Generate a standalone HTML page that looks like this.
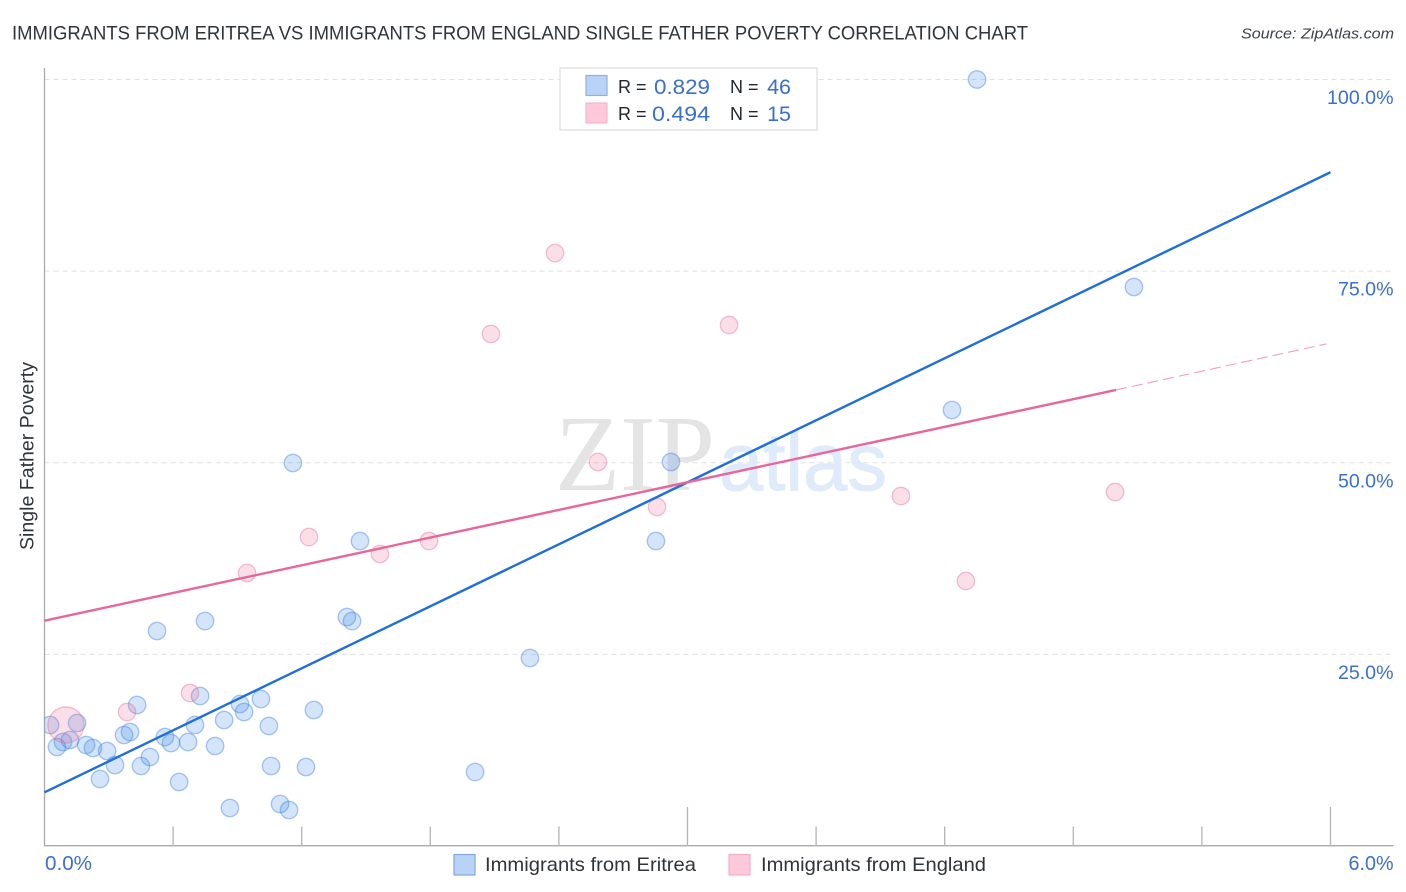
<!DOCTYPE html>
<html lang="en">
<head>
<meta charset="utf-8">
<title>Immigrants from Eritrea vs Immigrants from England Single Father Poverty Correlation Chart</title>
<style>
html,body{margin:0;padding:0;background:#fff;width:1406px;height:892px;overflow:hidden}
svg{display:block;font-family:"Liberation Sans",sans-serif}
</style>
</head>
<body>
<svg id="chart" xmlns="http://www.w3.org/2000/svg" width="1406" height="892" viewBox="0 0 1406 892">
  <defs><clipPath id="plot-clip"><rect x="44.5" y="60" width="1350" height="786"/></clipPath></defs>
  <text x="12" y="39.5" font-size="19.5" fill="#2f343a" textLength="1016" lengthAdjust="spacingAndGlyphs">IMMIGRANTS FROM ERITREA VS IMMIGRANTS FROM ENGLAND SINGLE FATHER POVERTY CORRELATION CHART</text>
  <text x="1394" y="38.5" font-size="15" font-style="italic" fill="#3c4248" text-anchor="end" textLength="153" lengthAdjust="spacingAndGlyphs">Source: ZipAtlas.com</text>

  <g id="grid"></g>

  <g>
    <text x="555" y="490" font-family="'Liberation Serif',serif" font-size="108" fill="#e4e4e4" textLength="160" lengthAdjust="spacingAndGlyphs">ZIP</text>
    <text x="719" y="490" font-family="'Liberation Sans',sans-serif" font-size="82" fill="#dfeafa" stroke="#dfeafa" stroke-width="1" textLength="168" lengthAdjust="spacingAndGlyphs">atlas</text>
  </g>

  <g id="axes"></g>
  <g id="points" clip-path="url(#plot-clip)"></g>
  <g id="trends"></g>
  <g id="labels"></g>

  <text transform="translate(33.5,456) rotate(-90)" font-size="19" fill="#2f343a" text-anchor="middle" textLength="188" lengthAdjust="spacingAndGlyphs">Single Father Poverty</text>

  <g>
    <rect x="560" y="68" width="257" height="62" fill="#fff" stroke="#dcdcdc" stroke-width="1.2"/>
    <rect x="586" y="75.5" width="21" height="20" fill="#b8d3f6" stroke="#8db1e6" stroke-width="1.2"/>
    <rect x="586" y="103" width="21" height="20" fill="#fdc8da" stroke="#f8b4cb" stroke-width="1.2"/>
    <text x="618" y="93" font-size="18" fill="#22272c">R =</text>
    <text x="710" y="94" font-size="21.5" fill="#3a6fd0" text-anchor="end" textLength="56" lengthAdjust="spacingAndGlyphs">0.829</text>
    <text x="730" y="93" font-size="18" fill="#22272c">N =</text>
    <text x="791" y="94" font-size="21.5" fill="#3a6fd0" text-anchor="end">46</text>
    <text x="618" y="120" font-size="18" fill="#22272c">R =</text>
    <text x="710" y="121" font-size="21.5" fill="#3a6fd0" text-anchor="end" textLength="58" lengthAdjust="spacingAndGlyphs">0.494</text>
    <text x="730" y="120" font-size="18" fill="#22272c">N =</text>
    <text x="791" y="121" font-size="21.5" fill="#3a6fd0" text-anchor="end">15</text>
  </g>

  <g>
    <rect x="454" y="854.5" width="21" height="20.5" fill="#b8d3f6" stroke="#7fa8e0" stroke-width="1.2"/>
    <text x="485" y="871" font-size="19.5" fill="#2f343a" textLength="211" lengthAdjust="spacingAndGlyphs">Immigrants from Eritrea</text>
    <rect x="729" y="854.5" width="21" height="20.5" fill="#fdc8da" stroke="#f3afc6" stroke-width="1.2"/>
    <text x="761" y="871" font-size="19.5" fill="#2f343a" textLength="225" lengthAdjust="spacingAndGlyphs">Immigrants from England</text>
  </g>
</svg>

<script>
const eritreaX = [4.351,5.083,4.234,2.923,1.159,2.853,1.472,1.411,1.435,0.525,0.749,2.265,0.432,0.726,0.912,1.010,0.931,1.257,0.838,0.702,1.047,0.399,0.371,0.562,0.590,0.670,0.796,0.492,0.450,0.329,0.259,0.628,1.057,1.220,2.009,0.865,1.099,1.141,0.058,0.086,0.119,0.152,0.026,0.194,0.226,0.292];
const eritreaY = [100.0,72.93,56.88,50.10,49.97,39.79,39.79,29.88,29.35,28.05,29.35,24.53,18.40,19.57,18.53,19.18,17.48,17.74,16.44,15.79,15.66,14.87,14.48,14.22,13.44,13.57,13.05,11.61,10.44,10.57,8.74,8.35,10.44,10.31,9.65,4.96,5.48,4.70,12.92,13.57,13.83,16.05,15.79,13.18,12.79,12.39];
const englandX = [2.382,2.083,3.194,2.582,3.996,4.995,2.858,1.234,1.794,1.565,0.945,4.299,0.679,0.385,0.100];
const englandY = [77.36,66.80,67.97,50.10,45.66,46.18,44.23,40.31,39.79,38.10,35.62,34.57,19.96,17.48,15.79];
const englandWeight = [1,1,1,1,1,1,1,1,1,1,1,1,1,1,4.3];
const eritreaTrendX = [0,6];
const eritreaTrendY = [7.0,87.9];
const englandTrendX = [0,5];
const englandTrendY = [29.4,59.5];
const englandForecastX = [5,5.98];
const englandForecastY = [59.5,65.5];
const yTicks = [100,75,50,25];
const yTickLabels = ["100.0%","75.0%","50.0%","25.0%"];
const xTicks = [0.6,1.2,1.8,2.4,3.0,3.6,4.2,4.8,5.4,6.0];
const xMajorTicks = [3.0,6.0];
const xEndLabels = ["0.0%","6.0%"];

const NS = "http://www.w3.org/2000/svg";
const xScale = v => 44.5 + v * 214.33;
const yScale = v => 846 - v * 7.665;
const BASE_R = 8.7;

function make(parent, tag, attrs) {
  const el = document.createElementNS(NS, tag);
  for (const k in attrs) el.setAttribute(k, attrs[k]);
  document.getElementById(parent).appendChild(el);
  return el;
}

yTicks.forEach(t => {
  const el = make("grid", "line", {x1:44.5, x2:1393, y1:yScale(t), y2:yScale(t), stroke:"#e0e0e0", "stroke-width":1, "stroke-dasharray":"5 4"});
  
  
});

const yAxis = make("axes", "line", {x1:44.5, x2:44.5, y1:68, y2:846, stroke:"#aaaaaa", "stroke-width":1.3});


const xAxis = make("axes", "line", {x1:44, x2:1393.5, y1:845.7, y2:845.7, stroke:"#aaaaaa", "stroke-width":1.3});


xTicks.forEach(t => {
  const top = xMajorTicks.includes(t) ? 807 : 826.5;
  const el = make("axes", "line", {x1:xScale(t), x2:xScale(t), y1:top, y2:846, stroke:"#b4b4b4", "stroke-width":1.3});
  
  
});

eritreaX.forEach((v, i) => {
  const el = make("points", "circle", {cx:xScale(v), cy:yScale(eritreaY[i]), r:BASE_R, fill:"#3d87e8", "fill-opacity":0.22, stroke:"#3d7fe0", "stroke-opacity":0.42, "stroke-width":1.4});
  
  
});
englandX.forEach((v, i) => {
  const el = make("points", "circle", {cx:xScale(v), cy:yScale(englandY[i]), r:BASE_R * Math.sqrt(englandWeight[i]), fill:"#ee6f98", "fill-opacity":0.22, stroke:"#e0668f", "stroke-opacity":0.4, "stroke-width":1.3});
  
  
});

const blueTrend = make("trends", "line", {x1:xScale(eritreaTrendX[0]), y1:yScale(eritreaTrendY[0]), x2:xScale(eritreaTrendX[1]), y2:yScale(eritreaTrendY[1]), stroke:"#1f6fd8", "stroke-width":2.4});


const pinkTrend = make("trends", "line", {x1:xScale(englandTrendX[0]), y1:yScale(englandTrendY[0]), x2:xScale(englandTrendX[1]), y2:yScale(englandTrendY[1]), stroke:"#e8669a", "stroke-width":2.4});


const pinkForecast = make("trends", "line", {x1:xScale(englandForecastX[0]), y1:yScale(englandForecastY[0]), x2:xScale(englandForecastX[1]), y2:yScale(englandForecastY[1]), stroke:"#f0a0bd", "stroke-width":1.1, "stroke-dasharray":"11 5"});



yTicks.forEach((t, i) => {
  const el = make("labels", "text", {x:1393.5, y:yScale(t) + 24.5, "font-size":19.6, fill:"#3a6fd0", "text-anchor":"end"});
  
  
  el.textContent = yTickLabels[i];
});
const xStart = make("labels", "text", {x:45, y:870, "font-size":20, fill:"#3a6fd0", textLength:47, lengthAdjust:"spacingAndGlyphs"});


xStart.textContent = xEndLabels[0];
const xEnd = make("labels", "text", {x:1393.5, y:870, "font-size":20, fill:"#3a6fd0", "text-anchor":"end", textLength:45, lengthAdjust:"spacingAndGlyphs"});


xEnd.textContent = xEndLabels[1];
</script>
</body>
</html>
